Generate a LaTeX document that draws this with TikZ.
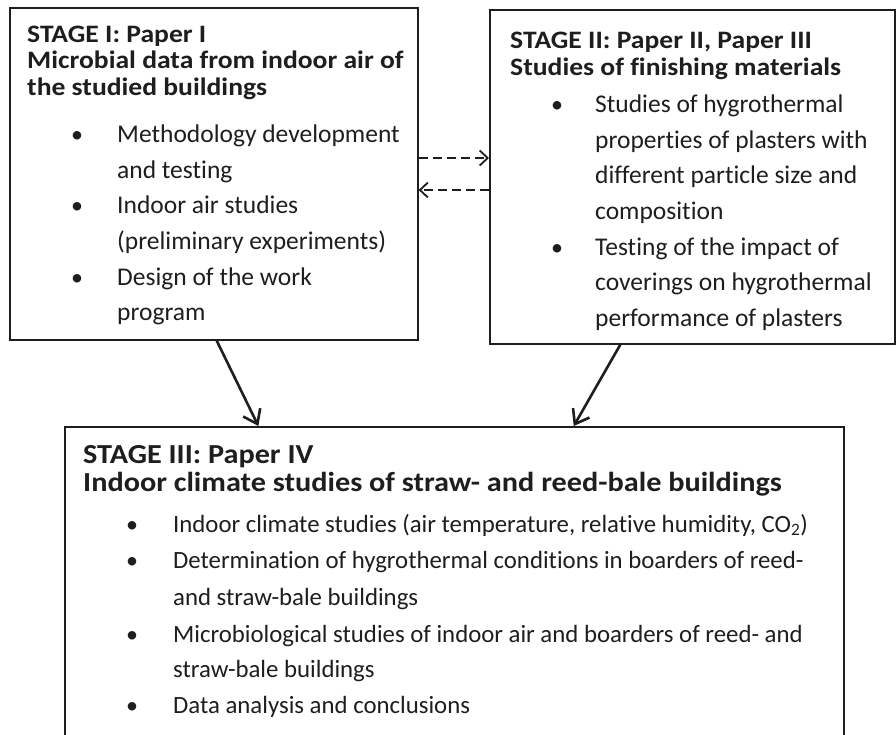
\documentclass[tikz,border=0pt]{standalone}
\usepackage{fontspec}
\setmainfont{Carlito}[Ligatures=NoCommon]
\newfontfamily\wideb{Carlito}[FakeStretch=1.1,Ligatures=NoCommon]
\usetikzlibrary{arrows.meta,calc}
\definecolor{ink}{HTML}{1E1E1E}
\tikzset{
  x=1pt,y=-1pt,
  box/.style={draw=ink,line width=1.6pt,rectangle,inner sep=0pt,anchor=north west},
  ttl/.style={anchor=base west,inner sep=0pt,text=ink,font=\fontsize{25.1}{28}\wideb\bfseries},
  bigttl/.style={anchor=base west,inner sep=0pt,text=ink,font=\fontsize{27.5}{30}\wideb\bfseries},
  txt/.style={anchor=base west,inner sep=0pt,text=ink,font=\fontsize{25.5}{28}\selectfont},
  btxt/.style={anchor=base west,inner sep=0pt,text=ink,font=\fontsize{24.8}{28}\selectfont},
  bul/.style={anchor=base,inner sep=0pt,text=ink,font=\fontsize{24}{28}\selectfont},
  flow/.style={draw=ink,line width=2.6pt,-{Straight Barb[length=13pt,width=19pt,line width=2.6pt]}},
  link/.style={draw=ink,line width=1.8pt,dash pattern=on 9pt off 5pt,-{Straight Barb[length=8pt,width=15pt,line width=1.8pt]}}
}
\begin{document}
\begin{tikzpicture}
\useasboundingbox[fill=white] (0,0) rectangle (896,734);
% boxes
\node[box,minimum width=408pt,minimum height=332pt] (b1) at (9,7) {};
\node[box,minimum width=405pt,minimum height=334pt] (b2) at (489,9) {};
\node[box,minimum width=779pt,minimum height=330pt] (b3) at (64,426) {};
% box 1 text
\node[ttl] (t1a) at (27,42) {STAGE I: Paper I};
\node[ttl] (t1b) at (27,68) {Microbial data from indoor air of};
\node[ttl] (t1c) at (27,95) {the studied buildings};
\node[bul] (p1a) at (77,142) {\textbullet};
\node[txt] (l1a) at (117,142) {Methodology development};
\node[txt] (l1b) at (117,178) {and testing};
\node[bul] (p1b) at (77,213) {\textbullet};
\node[txt] (l1c) at (117,213) {Indoor air studies};
\node[txt] (l1d) at (117,249) {(preliminary experiments)};
\node[bul] (p1c) at (77,285) {\textbullet};
\node[txt] (l1e) at (117,285) {Design of the work};
\node[txt] (l1f) at (117,320) {program};
% box 2 text
\node[ttl] (t2a) at (510,48) {STAGE II: Paper II, Paper III};
\node[ttl] (t2b) at (510,75) {Studies of finishing materials};
\node[bul] (p2a) at (557,112) {\textbullet};
\node[txt] (l2a) at (595,112) {Studies of hygrothermal};
\node[txt] (l2b) at (595,148) {properties of plasters with};
\node[txt] (l2c) at (595,183) {different particle size and};
\node[txt] (l2d) at (595,219) {composition};
\node[bul] (p2b) at (557,255) {\textbullet};
\node[txt] (l2e) at (595,255) {Testing of the impact of};
\node[txt] (l2f) at (595,290) {coverings on hygrothermal};
\node[txt] (l2g) at (595,326) {performance of plasters};
% box 3 text
\node[bigttl] (t3a) at (83,463) {STAGE III: Paper IV};
\node[bigttl] (t3b) at (83,491) {Indoor climate studies of straw- and reed-bale buildings};
\node[bul] (p3a) at (132,532) {\textbullet};
\node[btxt] (l3a) at (173,532) {Indoor climate studies (air temperature, relative humidity, CO\textsubscript{2})};
\node[bul] (p3b) at (132,568) {\textbullet};
\node[btxt] (l3b) at (173,568) {Determination of hygrothermal conditions in boarders of reed-};
\node[btxt] (l3c) at (173,605) {and straw-bale buildings};
\node[bul] (p3c) at (132,642) {\textbullet};
\node[btxt] (l3d) at (173,642) {Microbiological studies of indoor air and boarders of reed- and};
\node[btxt] (l3e) at (173,677) {straw-bale buildings};
\node[bul] (p3d) at (132,713) {\textbullet};
\node[btxt] (l3f) at (173,713) {Data analysis and conclusions};
% connectors
\draw[flow] ($(b1.south west)!0.507!(b1.south east)$) -- ($(b3.north west)!0.249!(b3.north east)$);
\draw[flow] ($(b2.south west)!0.323!(b2.south east)$) -- ($(b3.north west)!0.653!(b3.north east)$);
\draw[link] ($(b1.north east)+(0,151)$) -- ($(b2.north west)+(0,149)$);
\draw[link] ($(b2.north west)+(0,181)$) -- ($(b1.north east)+(0,183)$);
\end{tikzpicture}
\end{document}
